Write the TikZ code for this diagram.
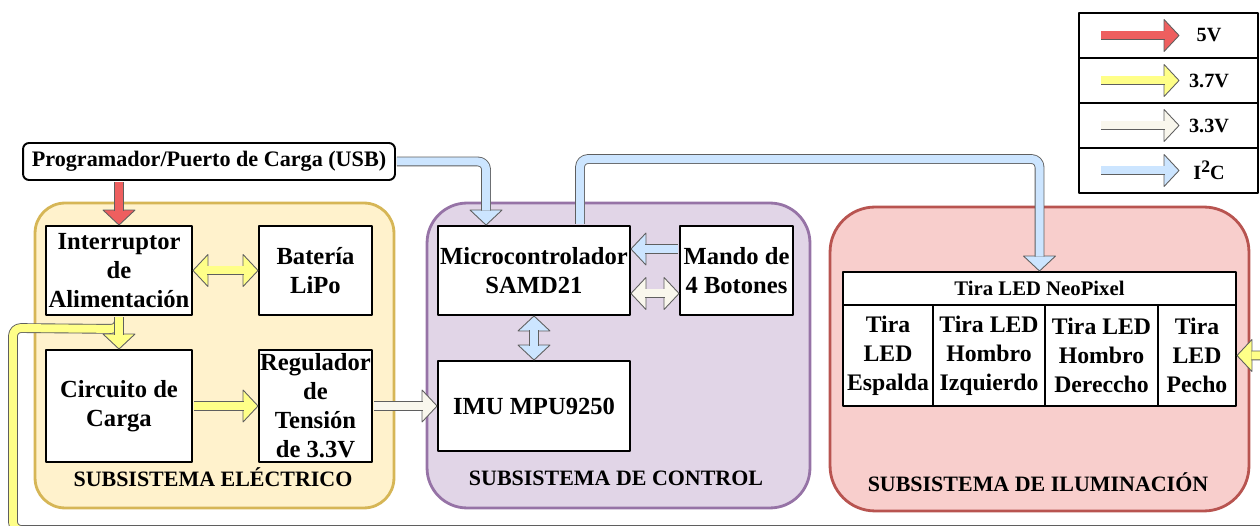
\documentclass[tikz,border=0pt]{standalone}
\usepackage{fontspec}
\setmainfont{Liberation Serif}
\definecolor{red5}{HTML}{EE5F5F}
\definecolor{yel}{HTML}{FFFF88}
\definecolor{crm}{HTML}{F9F7ED}
\definecolor{blu}{HTML}{CCE5FF}
\definecolor{agray}{HTML}{5F5F5F}
\definecolor{elecfill}{HTML}{FFF2CC}
\definecolor{elecline}{HTML}{D6B656}
\definecolor{ctrlfill}{HTML}{E1D5E7}
\definecolor{ctrlline}{HTML}{9673A6}
\definecolor{ilumfill}{HTML}{F8CECC}
\definecolor{ilumline}{HTML}{B85450}
% punta de flecha de bloque
\newcommand{\ahead}[3]{\filldraw[fill=#1, draw=agray, line width=0.5pt, shift={(#2)}, rotate=#3] (0,0) -- (-15,16) -- (-15,-16) -- cycle;}
\newcommand{\sqd}{\raisebox{0.75ex}{\fontsize{10}{10}\selectfont 2}}
\begin{document}
\begin{tikzpicture}[x=0.02cm, y=-0.02cm, line join=round,
	blk/.style={draw, line width=1.1pt, fill=white, align=center, inner sep=0pt, font=\bfseries\fontsize{14}{16.5}\selectfont},
	cell/.style={blk, font=\bfseries\fontsize{13.5}{16.5}\selectfont, minimum height=2.02cm},
	grp/.style={line width=1.6pt, minimum height=6.1cm},
	glabel/.style={font=\bfseries\fontsize{12.5}{15}\selectfont},
	pipe/.style={draw=agray, line width=0.5pt, double=#1, double distance=0.16cm},
	legrow/.style={draw, line width=1.1pt, minimum width=3.58cm, minimum height=0.9cm, inner sep=0pt}]
	\useasboundingbox (0,0) rectangle (1260,526);
	\clip (0,0) rectangle (1260,526);
	% Subsistemas
	\node[grp, draw=elecline, fill=elecfill, rounded corners=0.6cm, minimum width=7.18cm] (elec) at (214.5,355.5) {};
	\node[grp, draw=ctrlline, fill=ctrlfill, rounded corners=0.8cm, minimum width=7.66cm] (ctrl) at (618.5,355.5) {};
	\node[grp, draw=ilumline, fill=ilumfill, rounded corners=0.9cm, minimum width=8.38cm, minimum height=6.08cm] (ilum) at (1039.5,359) {};
	\node[glabel] (elecl) at (213,477) {SUBSISTEMA ELÉCTRICO};
	\node[glabel] (ctrll) at (616,478) {SUBSISTEMA DE CONTROL};
	\node[glabel] (iluml) at (1038,482) {SUBSISTEMA DE ILUMINACIÓN};
	% Bloques
	\node[blk, rounded corners=0.12cm, minimum width=7.44cm, minimum height=0.74cm, font=\bfseries\fontsize{12.6}{15}\selectfont] (usb) at (209,161.5) {Programador/Puerto de Carga (USB)};
	\node[blk, minimum width=2.92cm, minimum height=1.78cm] (inter) at (119,270.5) {Interruptor\\de\\Alimentación};
	\node[blk, minimum width=2.26cm, minimum height=1.78cm] (bat) at (315.5,270.5) {Batería\\LiPo};
	\node[blk, minimum width=2.92cm, minimum height=2.24cm] (carga) at (119,406) {Circuito de\\Carga};
	\node[blk, minimum width=2.26cm, minimum height=2.24cm] (reg) at (315.5,406) {Regulador\\de\\Tensión\\de 3.3V};
	\node[blk, minimum width=3.84cm, minimum height=1.78cm] (micro) at (534,270.5) {Microcontrolador\\SAMD21};
	\node[blk, minimum width=2.26cm, minimum height=1.78cm] (mando) at (736.5,270.5) {Mando de\\4 Botones};
	\node[blk, minimum width=3.84cm, minimum height=1.8cm] (imu) at (534,406) {IMU MPU9250};
	\node[blk, minimum width=7.86cm, minimum height=0.66cm, font=\bfseries\fontsize{11.8}{14}\selectfont] (neo) at (1039.5,288.5) {Tira LED NeoPixel};
	\node[cell, minimum width=1.8cm] (espalda) at (888,355.5) {Tira\\LED\\Espalda};
	\node[cell, minimum width=2.24cm] (izq) at (989,355.5) {Tira LED\\Hombro\\Izquierdo};
	\node[cell, minimum width=2.26cm] (der) at (1101.5,355.5) {Tira LED\\Hombro\\Dereccho};
	\node[cell, minimum width=1.56cm] (pecho) at (1197,355.5) {Tira\\LED\\Pecho};
	% Leyenda
	\foreach \c/\t [count=\i from 0] in {red5/5V, yel/3.7V, crm/3.3V, blu/I\sqd C} {
		\node[legrow] (lg\i) at (1168.5,{35.5+45*\i}) {};
		\coordinate (ls\i) at ([xshift=0.46cm]lg\i.west);
		\coordinate (lt\i) at ([xshift=2.02cm]lg\i.west);
		\ahead{\c}{lt\i}{0}
		\draw[pipe=\c, shorten >=0.29cm] (ls\i) -- (lt\i);
		\node[font=\bfseries\fontsize{11.5}{14}\selectfont] (ll\i) at ([xshift=2.62cm]lg\i.west) {\t};
	}
	% Conexiones
	\coordinate (mcin) at ([xshift=0.98cm]micro.north west);
	\coordinate (mcout) at ([xshift=2.86cm]micro.north west);
	\coordinate (mdin) at ([yshift=0.43cm]micro.east);
	\coordinate (mdout) at ([yshift=0.43cm]mando.west);
	\coordinate (mda) at ([yshift=-0.46cm]micro.east);
	\coordinate (mdb) at ([yshift=-0.46cm]mando.west);
	% 3.7V hacia Tira LED Pecho
	\ahead{yel}{pecho.east}{180}
	\draw[pipe=yel, rounded corners=0.16cm, shorten >=0.29cm, shorten <=0.6pt] (inter.south) -- ++(0,13) -- (13,328) -- (13,530) -- (1275,530) -- (1275,355.5) -- (pecho.east);
	% 5V
	\ahead{red5}{inter.north}{-90}
	\draw[pipe=red5, shorten >=0.29cm, shorten <=0.6pt] (usb.south -| inter.north) -- (inter.north);
	% 3.7V
	\ahead{yel}{inter.east}{180}
	\ahead{yel}{bat.west}{0}
	\draw[pipe=yel, shorten >=0.29cm, shorten <=0.29cm] (inter.east) -- (bat.west);
	\ahead{yel}{carga.north}{-90}
	\draw[pipe=yel, shorten >=0.29cm, shorten <=0.6pt] (inter.south) -- (carga.north);
	\ahead{yel}{reg.west}{0}
	\draw[pipe=yel, shorten >=0.29cm, shorten <=0.6pt] (carga.east) -- (reg.west);
	% 3.3V
	\ahead{crm}{imu.west}{0}
	\draw[pipe=crm, shorten >=0.29cm, shorten <=0.6pt] (reg.east) -- (imu.west);
	\ahead{crm}{mda}{180}
	\ahead{crm}{mdb}{0}
	\draw[pipe=crm, shorten >=0.29cm, shorten <=0.29cm] (mda) -- (mdb);
	% I2C
	\ahead{blu}{mcin}{-90}
	\draw[pipe=blu, rounded corners=0.16cm, shorten >=0.29cm, shorten <=0.6pt] (usb.east) -| (mcin);
	\ahead{blu}{neo.north}{-90}
	\draw[pipe=blu, rounded corners=0.16cm, shorten >=0.29cm, shorten <=0.6pt] (mcout) -- ++(0,-66) -| (neo.north);
	\ahead{blu}{mdin}{180}
	\draw[pipe=blu, shorten >=0.29cm, shorten <=0.6pt] (mdout) -- (mdin);
	\ahead{blu}{micro.south}{90}
	\ahead{blu}{imu.north}{-90}
	\draw[pipe=blu, shorten >=0.29cm, shorten <=0.29cm] (micro.south) -- (imu.north);
\end{tikzpicture}
\end{document}
